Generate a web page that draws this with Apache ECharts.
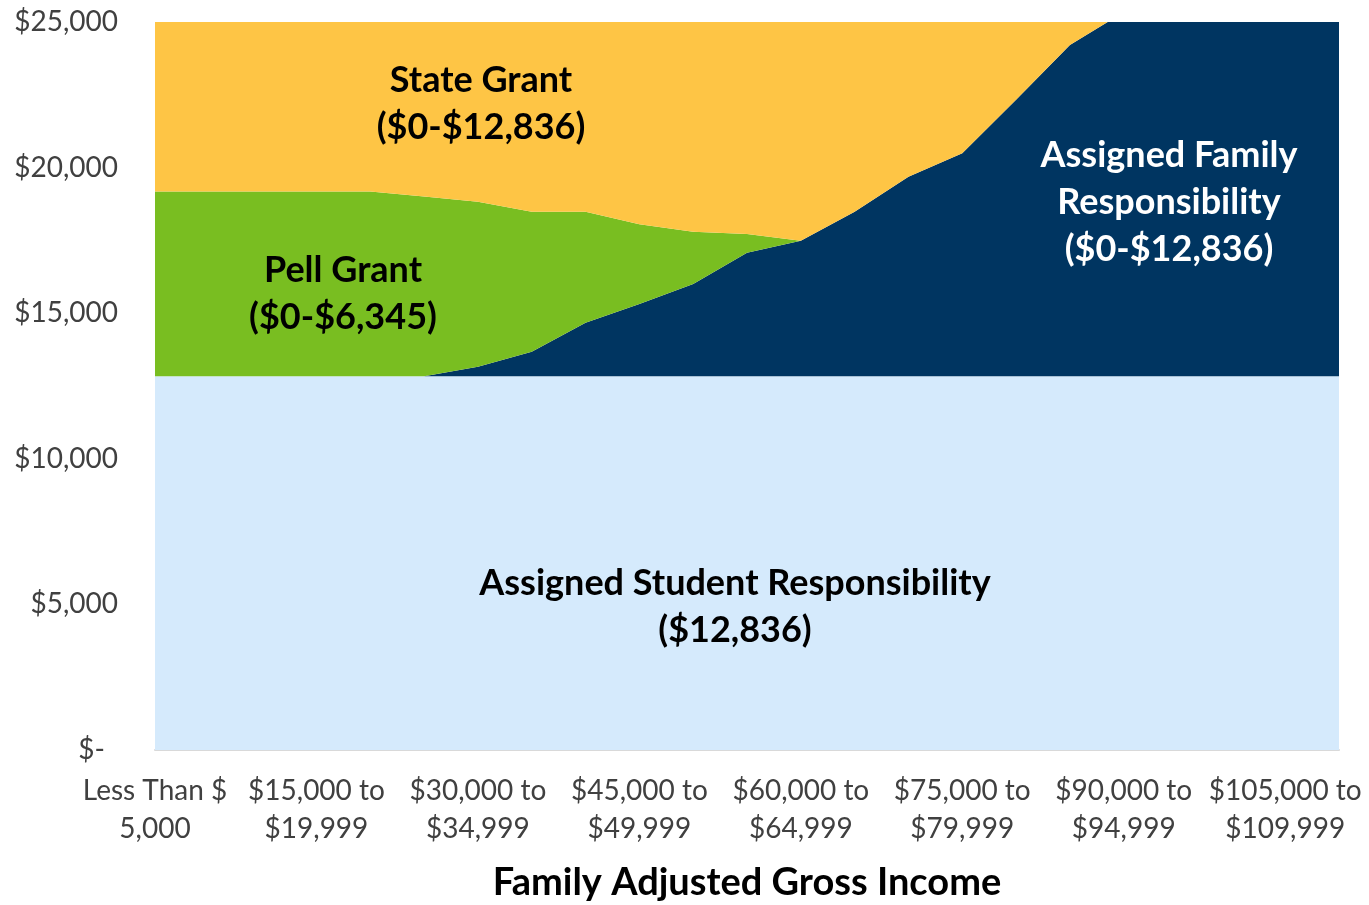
<!DOCTYPE html>
<html>
<head>
<meta charset="utf-8">
<script src="https://cdn.jsdelivr.net/npm/echarts@6/dist/echarts.min.js"></script>
<style>
  html, body { margin: 0; padding: 0; background: #fff; }
  #chart { width: 1369px; height: 905px; }
</style>
</head>
<body>
<div id="chart"></div>
<script>
// income brackets, one point per $5,000 step
const categories = [
  'Less Than $ 5,000', '$5,000 to $9,999', '$10,000 to $14,999', '$15,000 to $19,999',
  '$20,000 to $24,999', '$25,000 to $29,999', '$30,000 to $34,999', '$35,000 to $39,999',
  '$40,000 to $44,999', '$45,000 to $49,999', '$50,000 to $54,999', '$55,000 to $59,999',
  '$60,000 to $64,999', '$65,000 to $69,999', '$70,000 to $74,999', '$75,000 to $79,999',
  '$80,000 to $84,999', '$85,000 to $89,999', '$90,000 to $94,999', '$95,000 to $99,999',
  '$100,000 to $104,999', '$105,000 to $109,999', '$110,000 to $114,999'
]

const studentResp = [
  12836, 12836, 12836, 12836, 12836, 12836, 12836, 12836, 12836, 12836, 12836, 12836,
  12836, 12836, 12836, 12836, 12836, 12836, 12836, 12836, 12836, 12836, 12836
]
const familyResp = [
  0, 0, 0, 0, 0, 0, 327, 842, 1838, 2483, 3167, 4242,
  4654, 5650, 6852, 7655, 9492, 11374, 12500, 12836, 12836, 12836, 12836
]
const pellGrant = [
  6345, 6345, 6345, 6345, 6345, 6172, 5666, 4808, 3812, 2734, 1796, 642,
  0, 0, 0, 0, 0, 0, 0, 0, 0, 0, 0
]
const stateGrant = [
  6491, 6491, 6491, 6491, 6491, 6664, 6843, 7186, 7186, 7619, 7873, 7952,
  8182, 7186, 5984, 5181, 3344, 1462, 336, 0, 0, 0, 0
]

const yTicks = [0, 5000, 10000, 15000, 20000, 25000]

const FONT = 'Lato'

const chart = echarts.init(document.getElementById('chart'))

function area(name, data, color) {
  return {
    name: name,
    type: 'line',
    stack: 'total',
    data: data,
    showSymbol: false,
    symbol: 'none',
    lineStyle: { width: 0 },
    areaStyle: { color: color, opacity: 1 },
    itemStyle: { color: color },
    clip: true,
    silent: true
  }
}

function label(lines, x, y, color) {
  return lines.map((t, i) => ({
    type: 'text',
    x: x,
    y: y + i * 47,
    style: {
      text: t,
      fill: color,
      font: 'bold 36px ' + FONT,
      textAlign: 'center',
      textVerticalAlign: 'middle'
    },
    z: 100
  }))
}

const option = {
  animation: false,
  grid: { left: 155, right: 30, top: 22, bottom: 155, outerBoundsMode: 'none', containLabel: false },
  xAxis: {
    type: 'category',
    data: categories,
    boundaryGap: false,
    axisLine: { lineStyle: { color: '#d9d9d9', width: 2 } },
    axisTick: { show: false },
    axisLabel: {
      interval: 2,
      margin: 22,
      color: '#404040',
      fontFamily: FONT,
      fontSize: 28,
      lineHeight: 38,
      formatter: (v) => {
        const k = v.lastIndexOf(' ')
        return v.slice(0, k) + '\n' + v.slice(k + 1)
      }
    },
    name: 'Family Adjusted Gross Income',
    nameLocation: 'middle',
    nameGap: 114,
    nameTextStyle: { color: '#000', fontFamily: FONT, fontWeight: 'bold', fontSize: 38 }
  },
  yAxis: {
    type: 'value',
    min: yTicks[0],
    max: yTicks[yTicks.length - 1],
    interval: 5000,
    splitLine: { show: false },
    axisLine: { show: false },
    axisTick: { show: false },
    axisLabel: {
      margin: 37,
      color: '#404040',
      fontFamily: FONT,
      fontSize: 28,
      formatter: (v) => v === 0 ? '{d|$-}' : '$' + v.toLocaleString('en-US'),
      rich: { d: { fontFamily: FONT, fontSize: 28, color: '#404040', padding: [0, 13, 0, 0] } }
    }
  },
  series: [
    area('Assigned Student Responsibility', studentResp, '#d5eafc'),
    area('Assigned Family Responsibility', familyResp, '#003561'),
    area('Pell Grant', pellGrant, '#79be21'),
    area('State Grant', stateGrant, '#fec545')
  ],
  graphic: [].concat(
    label(['State Grant', '($0-$12,836)'], 481, 80, '#000'),
    label(['Pell Grant', '($0-$6,345)'], 343, 270, '#000'),
    label(['Assigned Family', 'Responsibility', '($0-$12,836)'], 1169, 155, '#fff'),
    label(['Assigned Student Responsibility', '($12,836)'], 735, 583, '#000')
  )
}

chart.setOption(option)
</script>
</body>
</html>
